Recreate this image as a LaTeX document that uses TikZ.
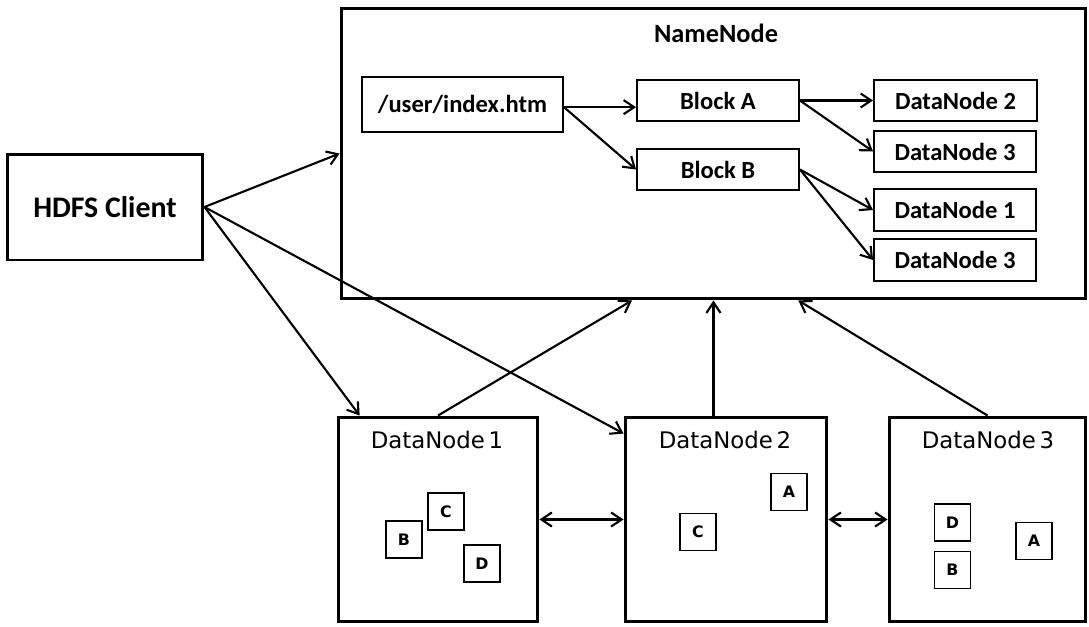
\documentclass[tikz,border=0pt]{standalone}
\usepackage{fontspec}
\setmainfont{Carlito}
\newfontfamily\dnfont{DejaVu Sans}
\usetikzlibrary{arrows.meta}

\begin{document}
\begin{tikzpicture}[x=0.02cm,y=-0.02cm,
  bigbox/.style={draw,line width=1.7pt,inner sep=0pt},
  blk/.style={draw,line width=1.1pt,inner sep=0pt,font=\bfseries\fontsize{14}{16}\selectfont},
  letterbox/.style={draw,line width=1.1pt,minimum width=0.72cm,minimum height=0.74cm,inner sep=0pt,font=\dnfont\bfseries\fontsize{9}{10}\selectfont},
  dntext/.style={font=\dnfont\fontsize{13}{15}\selectfont},
  arr/.style={line width=1.2pt,-{Straight Barb[length=6pt,width=8pt]}},
  darr/.style={line width=1.2pt,{Straight Barb[length=6pt,width=8pt]}-{Straight Barb[length=6pt,width=8pt]}}]
  \useasboundingbox (0,0) rectangle (1089,626);

  \node[bigbox,minimum width=3.92cm,minimum height=2.12cm,font=\bfseries\fontsize{17}{20}\selectfont] (client) at (105,207) {HDFS Client};
  \node[bigbox,minimum width=14.9cm,minimum height=5.82cm] (nn) at (713.5,153.5) {}; % NameNode
  \node[font=\bfseries\fontsize{15}{18}\selectfont] (nnt) at (716,33) {NameNode};

  \node[blk,minimum width=4.02cm,minimum height=1.1cm] (idx) at (462.5,104.5) {/user/index.htm};
  \node[blk,minimum width=3.24cm,minimum height=0.82cm] (blkA) at (718,100.5) {Block A};
  \node[blk,minimum width=3.24cm,minimum height=0.82cm] (blkB) at (718,169.5) {Block B};
  \node[blk,minimum width=3.26cm,minimum height=0.82cm] (a2) at (955.5,100.5) {DataNode 2};
  \node[blk,minimum width=3.24cm,minimum height=0.82cm] (a3) at (955,151.5) {DataNode 3};
  \node[blk,minimum width=3.24cm,minimum height=0.84cm] (b1) at (955,210) {DataNode 1};
  \node[blk,minimum width=3.24cm,minimum height=0.84cm] (b3) at (955,260) {DataNode 3};

  % data nodes
  \node[bigbox,minimum width=4cm,minimum height=4.1cm] (dn1) at (438,519.5) {};
  \node[bigbox,minimum width=4.04cm,minimum height=4.1cm] (dn2) at (726,519.5) {};
  \node[bigbox,minimum width=3.94cm,minimum height=4.1cm] (dn3) at (987.5,519.5) {};
  \node[dntext] (dn1t) at (437,440) {DataNode\,1};
  \node[dntext] (dn2t) at (725,440) {DataNode\,2};
  \node[dntext] (dn3t) at (988,440) {DataNode\,3};

  \node[letterbox] (c1) at (446,511.5) {C};
  \node[letterbox] (bb1) at (404,539.5) {B};
  \node[letterbox] (d1) at (482,563.5) {D};
  \node[letterbox] (c2) at (698,532) {C};
  \node[letterbox] (aa2) at (789,492) {A};
  \node[letterbox] (d3) at (952.5,522.5) {D};
  \node[letterbox] (bb3) at (952.5,570) {B};
  \node[letterbox] (aa3) at (1034,541) {A};

  % client requests
  \draw[arr] (client.east) -- (nn.west);
  \draw[arr] (client.east) -- (dn1.127);
  \draw[arr] (client.east) -- (dn2.140);

  % namespace
  \draw[arr] ([yshift=-1.5pt]idx.east) -- ([yshift=-1.5pt]idx.east -| blkA.west);
  \draw[arr] ([yshift=-1.5pt]idx.east) -- (blkB.west);
  \draw[arr] (blkA.east) -- (a2.west);
  \draw[arr] (blkA.east) -- (a3.west);
  \draw[arr] (blkB.east) -- (b1.west);
  \draw[arr] (blkB.east) -- (b3.west);

  % heartbeats
  \draw[arr] (dn1.north) -- (nn.241);
  \draw[arr] (dn2.north -| nn.south) -- (nn.south);
  \draw[arr] (dn3.north) -- (nn.300.7);

  \draw[darr] (dn1.east) -- (dn2.west);
  \draw[darr] (dn2.east) -- (dn3.west);
\end{tikzpicture}
\end{document}
